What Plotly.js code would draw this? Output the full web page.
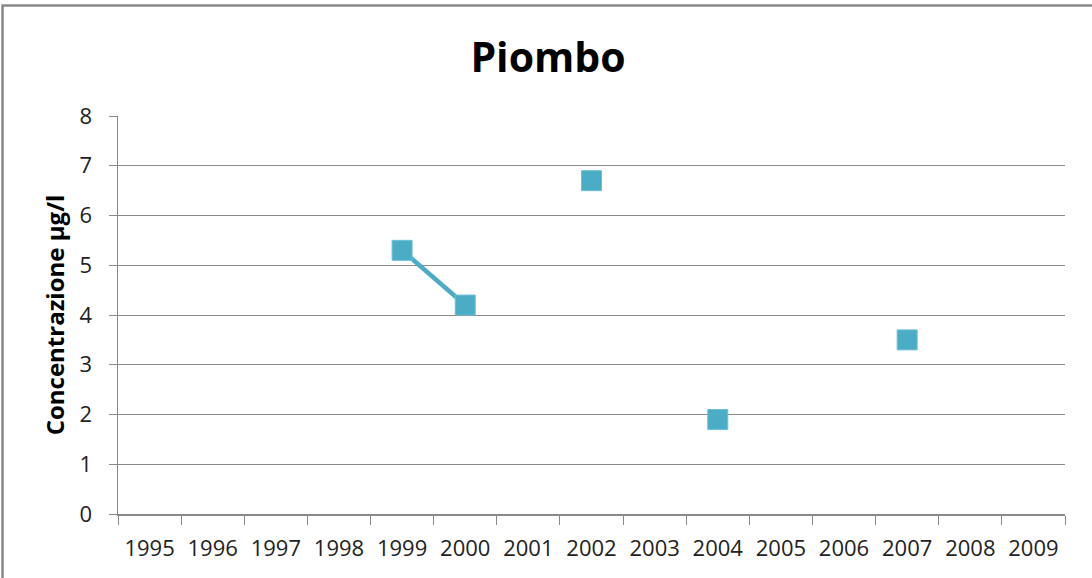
<!DOCTYPE html>
<html>
<head>
<meta charset="utf-8">
<script src="https://cdn.plot.ly/plotly-3.0.1.min.js"></script>
<style>
html,body{margin:0;padding:0;background:#fff;}
#chart{width:1092px;height:578px;}
</style>
</head>
<body>
<div id="chart"></div>
<script>
const years = ["1995","1996","1997","1998","1999","2000","2001","2002","2003","2004","2005","2006","2007","2008","2009"];
const piombo = [null,null,null,null,5.3,4.2,null,6.7,null,1.9,null,null,3.5,null,null];
const yTicks = [0,1,2,3,4,5,6,7,8];

const W = 1092, H = 578;
const L = 118, R = 27, T = 116, B = 64;
const pw = W - L - R, ph = H - T - B;
const px = v => (v - L) / pw;
const py = v => (H - B - v) / ph;

const trace = {
  type: 'scatter',
  mode: 'lines+markers',
  x: years,
  y: piombo,
  connectgaps: false,
  line: {color: '#4BACC6', width: 4.5},
  marker: {symbol: 'square', size: 20, color: '#4BACC6', line: {color: '#6cc0d6', width: 1}},
  showlegend: false,
  hoverinfo: 'x+y'
};

const layout = {
  width: W, height: H,
  margin: {l: L, r: R, t: T, b: B, pad: 0},
  paper_bgcolor: '#ffffff',
  plot_bgcolor: '#ffffff',
  font: {family: 'Open Sans, sans-serif', color: '#222'},
  title: {
    text: '<b>Piombo</b>',
    font: {family: 'Open Sans, sans-serif', size: 41, color: '#000'},
    x: 548 / W, xref: 'container', xanchor: 'center',
    y: 1 - 58 / H, yref: 'container', yanchor: 'middle'
  },
  xaxis: {
    type: 'category',
    categoryorder: 'array',
    categoryarray: years,
    range: [-0.5, years.length - 0.5],
    tickson: 'boundaries',
    ticks: 'outside', ticklen: 9, tickwidth: 1, tickcolor: '#888',
    showline: true, linecolor: '#888', linewidth: 1.5,
    showgrid: false, zeroline: false,
    tickfont: {family: 'Open Sans, sans-serif', size: 22, color: '#222'},
    ticklabelstandoff: 14,
    automargin: false,
    fixedrange: true
  },
  yaxis: {
    range: [0, 8],
    tickvals: yTicks,
    ticktext: yTicks.map(String),
    ticks: 'outside', ticklen: 8, tickwidth: 1, tickcolor: '#888',
    showline: true, linecolor: '#888', linewidth: 1.5,
    showgrid: true, gridcolor: '#8a8a8a', gridwidth: 1,
    zeroline: false,
    tickfont: {family: 'Open Sans, sans-serif', size: 22, color: '#222'},
    ticklabelstandoff: 12,
    title: {text: '<b>Concentrazione µg/l</b>', font: {family: 'Open Sans, sans-serif', size: 24, color: '#000'}, standoff: 8},
    automargin: false,
    fixedrange: true
  },
  shapes: [{
    type: 'rect', xref: 'paper', yref: 'paper',
    x0: px(2.5), x1: px(1200), y0: py(700), y1: py(5.5),
    line: {color: '#888', width: 2.5},
    fillcolor: 'rgba(0,0,0,0)',
    layer: 'above'
  }]
};

Plotly.newPlot('chart', [trace], layout, {displayModeBar: false, staticPlot: true});
</script>
</body>
</html>
